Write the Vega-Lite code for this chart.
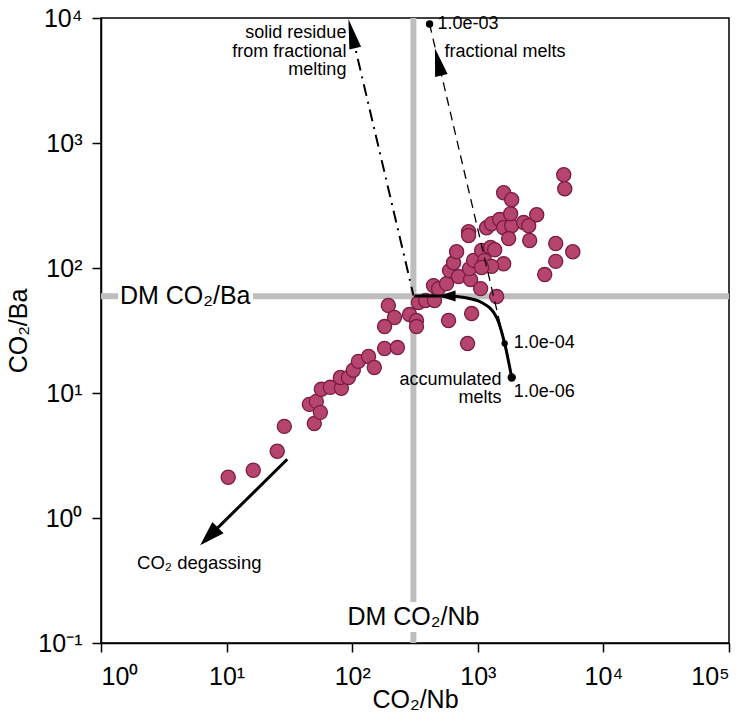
{
  "$schema": "https://vega.github.io/schema/vega-lite/v6.json",
  "width": 628,
  "height": 625,
  "autosize": {"type": "none"},
  "padding": {"left": 101, "top": 18, "right": 20, "bottom": 78},
  "background": "white",
  "config": {
    "font": "Liberation Sans",
    "view": {"stroke": "black", "strokeWidth": 1.5},
    "axis": {
      "grid": false, "domainColor": "black", "tickColor": "black", "domainWidth": 1.5, "tickWidth": 1.5,
      "tickSize": 9, "labelFontSize": 25, "titleFontSize": 25, "labelColor": "black", "titleColor": "black",
      "titleFontWeight": "normal", "labelFont": "Liberation Sans", "titleFont": "Liberation Sans"
    }
  },
  "encoding": {
    "x": {
      "field": "x", "type": "quantitative",
      "scale": {"type": "log", "domain": [1, 100000], "nice": false, "zero": false},
      "axis": {
        "title": "CO₂/Nb", "values": [1, 10, 100, 1000, 10000, 100000], "labelPadding": 12, "titlePadding": -2,
        "labelExpr": "datum.value < 5 ? '10⁰' : datum.value < 50 ? '10¹' : datum.value < 500 ? '10²' : datum.value < 5000 ? '10³' : datum.value < 50000 ? '10⁴' : '10⁵'"
      }
    },
    "y": {
      "field": "y", "type": "quantitative",
      "scale": {"type": "log", "domain": [0.1, 10000], "nice": false, "zero": false},
      "axis": {
        "title": "CO₂/Ba", "values": [0.1, 1, 10, 100, 1000, 10000], "labelPadding": 10, "titlePadding": 6,
        "labelExpr": "datum.value < 0.5 ? '10⁻¹' : datum.value < 5 ? '10⁰' : datum.value < 50 ? '10¹' : datum.value < 500 ? '10²' : datum.value < 5000 ? '10³' : '10⁴'"
      }
    }
  },
  "layer": [
    {
      "data": {"values": [{"x": 1, "x2": 1.365, "y": 59.5}, {"x": 16.2, "x2": 100000, "y": 59.5}]},
      "mark": {"type": "rule", "color": "#bebebe", "strokeWidth": 6},
      "encoding": {"x2": {"field": "x2"}}
    },
    {
      "data": {"values": [{"x": 307, "y": 0.1, "y2": 0.1225}, {"x": 307, "y": 0.2126, "y2": 10000}]},
      "mark": {"type": "rule", "color": "#bebebe", "strokeWidth": 6},
      "encoding": {"y2": {"field": "y2"}}
    },
    {
      "data": {"values": [{"x": 1.416, "y": 59.5, "label": "DM CO₂/Ba"}]},
      "mark": {"type": "text", "align": "left", "baseline": "middle", "fontSize": 25, "color": "black"},
      "encoding": {"text": {"field": "label"}}
    },
    {
      "data": {"values": [{"x": 307, "y": 0.162, "label": "DM CO₂/Nb"}]},
      "mark": {"type": "text", "align": "center", "baseline": "middle", "fontSize": 25, "color": "black"},
      "encoding": {"text": {"field": "label"}}
    },
    {
      "data": {"values": [
        {"x": 10.3, "y": 2.12}, {"x": 16.3, "y": 2.41}, {"x": 25.3, "y": 3.42}, {"x": 28.8, "y": 5.41},
        {"x": 49.9, "y": 5.71}, {"x": 45.6, "y": 8.11}, {"x": 51.8, "y": 8.57}, {"x": 55.8, "y": 7.0},
        {"x": 56.8, "y": 10.7}, {"x": 67, "y": 11.1}, {"x": 82, "y": 10.9}, {"x": 80.5, "y": 13.3},
        {"x": 93.3, "y": 13.3}, {"x": 102, "y": 15.2}, {"x": 112, "y": 17.9}, {"x": 135, "y": 19.6},
        {"x": 150, "y": 16.0}, {"x": 181, "y": 22.7}, {"x": 229, "y": 23.1}, {"x": 194, "y": 50.1},
        {"x": 217, "y": 40.2}, {"x": 181, "y": 34}, {"x": 286, "y": 42.4}, {"x": 325, "y": 38},
        {"x": 325, "y": 34}, {"x": 337, "y": 52.9}, {"x": 384, "y": 54.9}, {"x": 452, "y": 54.9},
        {"x": 444, "y": 72.3}, {"x": 487, "y": 68.4}, {"x": 564, "y": 75}, {"x": 585, "y": 38},
        {"x": 893, "y": 43.2}, {"x": 829, "y": 24.9}, {"x": 1412, "y": 59.1}, {"x": 596, "y": 95.3},
        {"x": 641, "y": 110}, {"x": 678, "y": 135}, {"x": 703, "y": 85.4}, {"x": 876, "y": 80.8},
        {"x": 1053, "y": 68.4}, {"x": 860, "y": 98.9}, {"x": 926, "y": 115}, {"x": 1072, "y": 138},
        {"x": 1133, "y": 115}, {"x": 1265, "y": 146}, {"x": 1361, "y": 140}, {"x": 1606, "y": 108},
        {"x": 1288, "y": 103}, {"x": 845, "y": 195}, {"x": 845, "y": 182}, {"x": 1175, "y": 210},
        {"x": 1288, "y": 226}, {"x": 1492, "y": 244}, {"x": 1606, "y": 210}, {"x": 1860, "y": 218},
        {"x": 1826, "y": 272}, {"x": 2318, "y": 231}, {"x": 2542, "y": 218}, {"x": 2944, "y": 267},
        {"x": 1606, "y": 400}, {"x": 1860, "y": 352}, {"x": 1761, "y": 172}, {"x": 2589, "y": 166},
        {"x": 4173, "y": 157}, {"x": 5702, "y": 135}, {"x": 4173, "y": 113}, {"x": 3410, "y": 88.6},
        {"x": 4833, "y": 557}, {"x": 4923, "y": 431}, {"x": 1072, "y": 101}
      ]},
      "mark": {"type": "point", "shape": "circle", "filled": true, "size": 200, "fill": "#b5446e", "stroke": "#7b1c43", "strokeWidth": 1.3, "opacity": 1}
    },
    {
      "data": {"values": [{"x": 307.6, "y": 60.2}, {"x": 99.3, "y": 7505}]},
      "mark": {"type": "line", "color": "black", "strokeWidth": 2, "strokeDash": [12, 6, 2, 6]}
    },
    {
      "data": {"values": [{"x": 1636, "y": 24.9}, {"x": 413, "y": 8960}]},
      "mark": {"type": "line", "color": "black", "strokeWidth": 1.3, "strokeDash": [9, 6]}
    },
    {
      "data": {"values": [
        {"x": 313.3, "y": 59.6}, {"x": 585, "y": 59.6}, {"x": 785, "y": 58.0}, {"x": 1072, "y": 53.0},
        {"x": 1413, "y": 40.2}, {"x": 1636, "y": 24.9}, {"x": 1862, "y": 13.3}
      ]},
      "mark": {"type": "line", "color": "black", "strokeWidth": 3, "interpolate": "monotone"}
    },
    {
      "data": {"values": [{"x": 30.4, "y": 2.95}, {"x": 7.25, "y": 0.713}]},
      "mark": {"type": "line", "color": "black", "strokeWidth": 3}
    },
    {
      "data": {"values": [{"x": 99.3, "y": 7505}]},
      "mark": {"type": "point", "shape": "M0,-1L0.4,1L-0.4,1Z", "size": 900, "angle": 346.8, "filled": true, "fill": "black", "strokeWidth": 0, "opacity": 1}
    },
    {
      "data": {"values": [{"x": 483.4, "y": 4452}]},
      "mark": {"type": "point", "shape": "M0,-1L0.46,1L-0.46,1Z", "size": 784, "angle": 346.7, "filled": true, "fill": "black", "strokeWidth": 0, "opacity": 1}
    },
    {
      "data": {"values": [{"x": 569, "y": 59.6}]},
      "mark": {"type": "point", "shape": "M0,-1L0.65,1L-0.65,1Z", "size": 289, "angle": 270, "filled": true, "fill": "black", "strokeWidth": 0, "opacity": 1}
    },
    {
      "data": {"values": [{"x": 7.25, "y": 0.713}]},
      "mark": {"type": "point", "shape": "M0,-1L0.64,1L-0.64,1Z", "size": 625, "angle": 225.3, "filled": true, "fill": "black", "strokeWidth": 0, "opacity": 1}
    },
    {
      "data": {"values": [{"x": 413, "y": 8960}]},
      "mark": {"type": "point", "shape": "circle", "filled": true, "size": 55, "fill": "black", "opacity": 1}
    },
    {
      "data": {"values": [{"x": 1636, "y": 24.9}]},
      "mark": {"type": "point", "shape": "circle", "filled": true, "size": 40, "fill": "black", "opacity": 1}
    },
    {
      "data": {"values": [{"x": 1862, "y": 13.3}]},
      "mark": {"type": "point", "shape": "circle", "filled": true, "size": 70, "fill": "black", "opacity": 1}
    },
    {
      "data": {"values": [
        {"x": 478, "y": 8955, "label": "1.0e-03"},
        {"x": 543.5, "y": 5300, "label": "fractional melts"},
        {"x": 1930, "y": 24.9, "label": "1.0e-04"},
        {"x": 1930, "y": 10.1, "label": "1.0e-06"}
      ]},
      "mark": {"type": "text", "align": "left", "baseline": "middle", "fontSize": 18, "color": "black"},
      "encoding": {"text": {"field": "label"}}
    },
    {
      "data": {"values": [
        {"x": 89.9, "y": 7556, "label": "solid residue"},
        {"x": 89.9, "y": 5377, "label": "from fractional"},
        {"x": 89.9, "y": 3823, "label": "melting"},
        {"x": 1548, "y": 12.78, "label": "accumulated"},
        {"x": 1548, "y": 9.09, "label": "melts"}
      ]},
      "mark": {"type": "text", "align": "right", "baseline": "middle", "fontSize": 18, "color": "black"},
      "encoding": {"text": {"field": "label"}}
    },
    {
      "data": {"values": [{"x": 1.937, "y": 0.4355, "label": "CO₂ degassing"}]},
      "mark": {"type": "text", "align": "left", "baseline": "middle", "fontSize": 18.5, "color": "black"},
      "encoding": {"text": {"field": "label"}}
    }
  ]
}
